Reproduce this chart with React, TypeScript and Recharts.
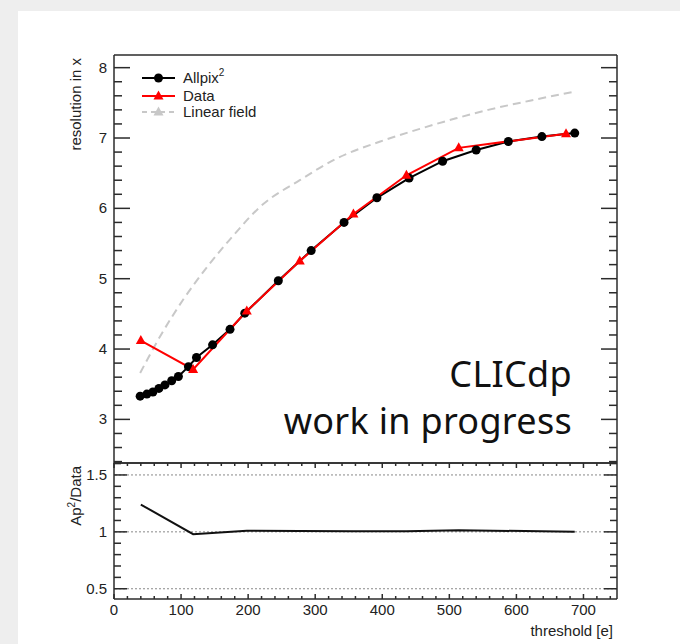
import { ComposedChart, Line, XAxis, YAxis, ReferenceLine } from 'recharts';

// spatial resolution vs. threshold, simulation against test-beam data
const allpixThreshold = [39, 49, 58, 67, 76, 86, 96, 111, 123, 147, 173, 195, 245, 294, 343, 392, 440, 490, 540, 588, 638, 687];
const allpixResolution = [3.33, 3.36, 3.39, 3.44, 3.49, 3.55, 3.61, 3.75, 3.88, 4.06, 4.28, 4.51, 4.97, 5.4, 5.8, 6.15, 6.43, 6.67, 6.83, 6.95, 7.02, 7.07];

const dataThreshold = [40, 118, 198, 277, 357, 436, 514, 674];
const dataResolution = [4.12, 3.71, 4.54, 5.25, 5.92, 6.47, 6.86, 7.06];

const linearThreshold = [39, 70, 103, 140, 173, 220, 277, 330, 397, 456, 510, 558, 620, 687];
const linearResolution = [3.66, 4.2, 4.7, 5.18, 5.56, 6.04, 6.4, 6.7, 6.95, 7.13, 7.28, 7.4, 7.53, 7.66];

const ratioThreshold = [40, 118, 198, 277, 357, 436, 514, 687];
const ratioValue = [1.24, 0.98, 1.01, 1.008, 1.006, 1.006, 1.015, 1.0];

const xMajor = [0, 100, 200, 300, 400, 500, 600, 700];
const yMajor = [3, 4, 5, 6, 7, 8];
const ratioMajor = [0.5, 1, 1.5];

const X_DOMAIN: [number, number] = [0, 750];
const Y_DOMAIN: [number, number] = [2.38, 8.18];
const RATIO_DOMAIN: [number, number] = [0.41, 1.605];

const FRAME = '#2b2b2b';
const LABEL = '#222';
const FONT = '"Liberation Sans", Arial, sans-serif';

const steps = (from: number, to: number, step: number) => {
  const out: number[] = [];
  for (let v = from; v <= to + 1e-9; v += step) out.push(Math.round(v * 1000) / 1000);
  return out;
};

const xTicks = steps(0, 740, 20);
const yTicks = steps(2.4, 8.0, 0.2);
const ratioTicks = steps(0.5, 1.6, 0.1);

const toPoints = (xs: number[], ys: number[]) => xs.map((x, i) => ({ x, y: ys[i] }));

const isMajor = (v: number, majors: number[]) => majors.some((m) => Math.abs(m - v) < 1e-6);

function yTick(majors: number[], majorLen: number, minorLen: number, dir: 1 | -1, label: boolean) {
  return (props: any) => {
    const { x, y, payload } = props;
    const major = isMajor(payload.value, majors);
    return (
      <g>
        <line x1={x} x2={x + dir * (major ? majorLen : minorLen)} y1={y} y2={y} stroke={FRAME} strokeWidth={1.5} />
        {label && major && (
          <text x={x - 7} y={y + 5} textAnchor="end" fontFamily={FONT} fontSize={15} fill={LABEL}>
            {payload.value}
          </text>
        )}
      </g>
    );
  };
}

function xTick(dir: 1 | -1, label: boolean) {
  return (props: any) => {
    const { x, y, payload } = props;
    const major = isMajor(payload.value, xMajor);
    return (
      <g>
        <line x1={x} x2={x} y1={y} y2={y + dir * (major ? 5 : 3)} stroke={FRAME} strokeWidth={1.5} />
        {label && major && (
          <text x={x} y={y + 16} textAnchor="middle" fontFamily={FONT} fontSize={15} fill={LABEL}>
            {payload.value}
          </text>
        )}
      </g>
    );
  };
}

const Circle = (props: any) => {
  const { cx, cy } = props;
  if (cx == null || cy == null) return null;
  return <circle cx={cx} cy={cy} r={4.5} fill="#000" />;
};

const Triangle = (props: any) => {
  const { cx, cy } = props;
  if (cx == null || cy == null) return null;
  return <polygon points={`${cx},${cy - 5.5} ${cx - 5},${cy + 3.5} ${cx + 5},${cy + 3.5}`} fill="#ff0000" />;
};

const axisLine = { stroke: FRAME, strokeWidth: 1.5 };

export default function App() {
  return (
    <div style={{ position: 'absolute', left: 0, top: 0, width: 680, height: 644, background: '#eeeeee', overflow: 'hidden' }}>
      <div style={{ position: 'absolute', left: 18, top: 11, right: 0, bottom: 0, background: '#fff' }} />

      {/* upper pad: resolution */}
      <div style={{ position: 'absolute', left: 0, top: 0 }}>
        <ComposedChart width={680} height={644} margin={{ top: 54, right: 62, bottom: 180, left: 74 }}>
          <XAxis xAxisId="top" orientation="top" type="number" dataKey="x" domain={X_DOMAIN} allowDataOverflow height={1} tick={false} tickLine={false} axisLine={axisLine} />
          <XAxis xAxisId="bot" orientation="bottom" type="number" dataKey="x" domain={X_DOMAIN} allowDataOverflow height={1} tick={false} tickLine={false} axisLine={axisLine} />
          <YAxis yAxisId="l" type="number" domain={Y_DOMAIN} allowDataOverflow ticks={yTicks} interval={0} width={40} tickSize={0} tickMargin={0} tickLine={false} axisLine={axisLine} tick={yTick(yMajor, 16, 8, 1, true)} />
          <YAxis yAxisId="r" orientation="right" type="number" domain={Y_DOMAIN} allowDataOverflow ticks={yTicks} interval={0} width={1} tickSize={0} tickMargin={0} tickLine={false} axisLine={axisLine} tick={yTick(yMajor, 16, 8, -1, false)} />
          <Line xAxisId="bot" yAxisId="r" data={toPoints(linearThreshold, linearResolution)} dataKey="y" type="monotone" stroke="#c8c8c8" strokeWidth={2} strokeDasharray="8 5" dot={false} isAnimationActive={false} />
          <Line xAxisId="top" yAxisId="l" data={toPoints(allpixThreshold, allpixResolution)} dataKey="y" type="linear" stroke="#000" strokeWidth={2} dot={<Circle />} isAnimationActive={false} />
          <Line xAxisId="top" yAxisId="l" data={toPoints(dataThreshold, dataResolution)} dataKey="y" type="linear" stroke="#ff0000" strokeWidth={2} dot={<Triangle />} isAnimationActive={false} />
        </ComposedChart>
      </div>

      {/* lower pad: ratio */}
      <div style={{ position: 'absolute', left: 0, top: 0 }}>
        <ComposedChart width={680} height={644} margin={{ top: 462, right: 62, bottom: 15, left: 74 }}>
          <XAxis xAxisId="top" orientation="top" type="number" dataKey="x" domain={X_DOMAIN} allowDataOverflow ticks={xTicks} interval={0} height={1} tickSize={0} tickMargin={0} tickLine={false} axisLine={axisLine} tick={xTick(1, false)} />
          <XAxis xAxisId="bot" orientation="bottom" type="number" dataKey="x" domain={X_DOMAIN} allowDataOverflow ticks={xTicks} interval={0} height={30} tickSize={0} tickMargin={0} tickLine={false} axisLine={axisLine} tick={xTick(-1, true)} />
          <YAxis yAxisId="l" type="number" domain={RATIO_DOMAIN} allowDataOverflow ticks={ratioTicks} interval={0} width={40} tickSize={0} tickMargin={0} tickLine={false} axisLine={axisLine} tick={yTick(ratioMajor, 13, 7, 1, true)} />
          <YAxis yAxisId="r" orientation="right" type="number" domain={RATIO_DOMAIN} allowDataOverflow ticks={ratioTicks} interval={0} width={1} tickSize={0} tickMargin={0} tickLine={false} axisLine={axisLine} tick={yTick(ratioMajor, 13, 7, -1, false)} />
          {ratioMajor.map((v) => (
            <ReferenceLine key={v} xAxisId="top" yAxisId="r" y={v} stroke="#888" strokeWidth={1} strokeDasharray="2 2" />
          ))}
          <Line xAxisId="bot" yAxisId="l" data={toPoints(ratioThreshold, ratioValue)} dataKey="y" type="linear" stroke="#111" strokeWidth={2} dot={false} isAnimationActive={false} />
        </ComposedChart>
      </div>

      {/* titles, legend and label */}
      <svg width={680} height={644} style={{ position: 'absolute', left: 0, top: 0, pointerEvents: 'none' }}>
        <text transform="translate(81,58) rotate(-90)" textAnchor="end" fontFamily={FONT} fontSize={15} fill={LABEL}>
          resolution in x
        </text>
        <text transform="translate(81,466) rotate(-90)" textAnchor="end" fontFamily={FONT} fontSize={15} fill={LABEL}>
          Ap<tspan dy={-6} fontSize={10}>2</tspan>
          <tspan dy={6}>/Data</tspan>
        </text>
        <text x={613} y={636} textAnchor="end" fontFamily={FONT} fontSize={15} fill={LABEL}>
          threshold [e]
        </text>

        <g fontFamily={FONT} fontSize={15} fill={LABEL}>
          <line x1={142} x2={175} y1={78} y2={78} stroke="#000" strokeWidth={2} />
          <circle cx={158.5} cy={78} r={4.5} fill="#000" />
          <text x={183} y={82.5}>
            Allpix<tspan dy={-7} fontSize={10}>2</tspan>
          </text>

          <line x1={142} x2={175} y1={96} y2={96} stroke="#ff0000" strokeWidth={2} />
          <polygon points="158.5,90.5 153.5,99.5 163.5,99.5" fill="#ff0000" />
          <text x={183} y={100.5}>Data</text>

          <line x1={142} x2={175} y1={112} y2={112} stroke="#c8c8c8" strokeWidth={2} strokeDasharray="5 4" />
          <polygon points="158.5,106.5 153.5,115.5 163.5,115.5" fill="#c8c8c8" />
          <text x={183} y={117}>Linear field</text>
        </g>

        <g fontFamily='"Noto Sans", "Open Sans", sans-serif' fontSize={36} letterSpacing={0.3} fill="#111" textAnchor="end">
          <text x={572} y={387}>CLICdp</text>
          <text x={572} y={434}>work in progress</text>
        </g>
      </svg>
    </div>
  );
}
